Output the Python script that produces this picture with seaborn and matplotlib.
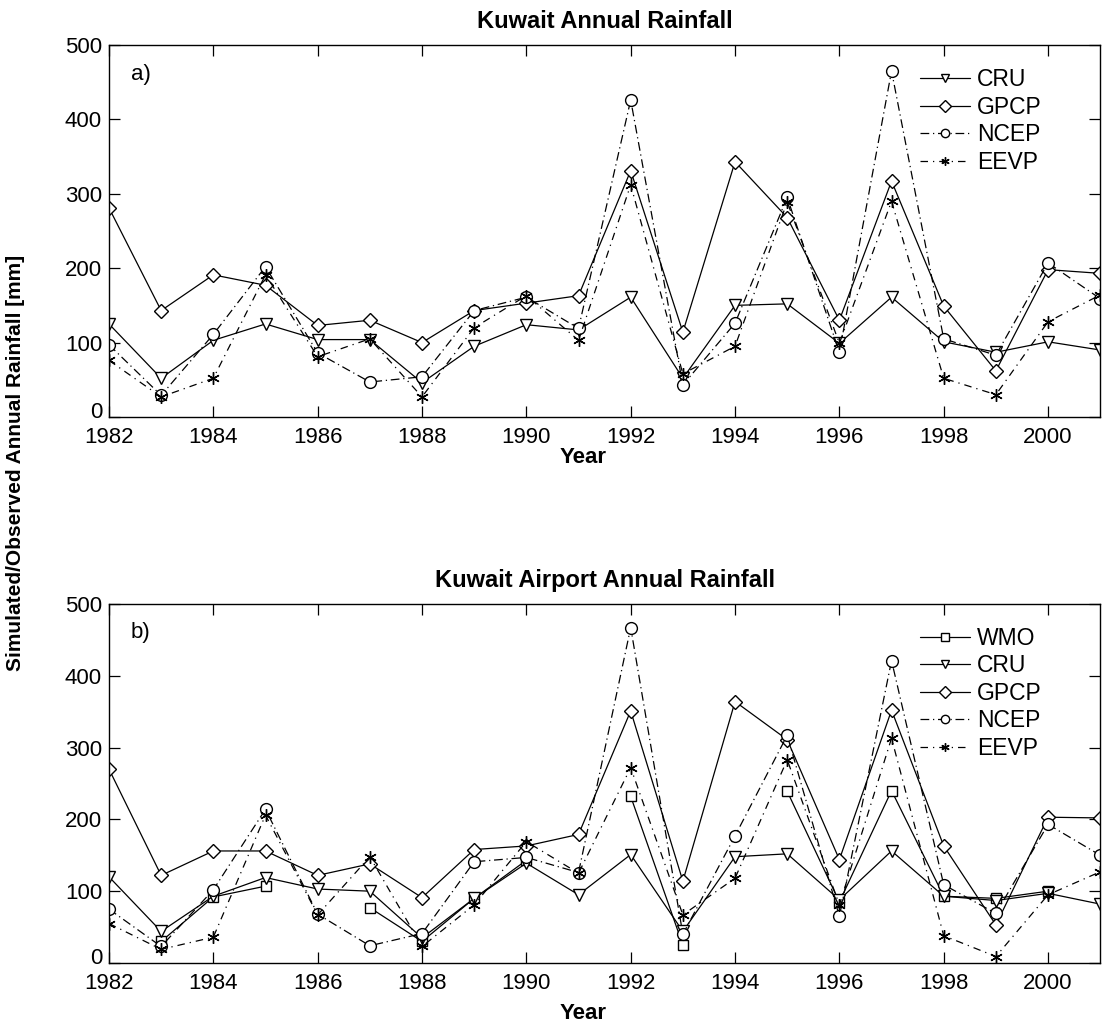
import numpy as np
import pandas as pd
import seaborn as sns
import matplotlib.pyplot as plt
import matplotlib.transforms as mtransforms

# Values (mm)
years = list(range(1982, 2002))

# a) Kuwait
cru_a = [125, 52, 103, 125, 104, 104, 46, 95, 124, 117, 161, 52, 150, 152, 99, 161, 101, 87, 101, 90]
gpcp_a = [281, 143, 191, 177, 123, 130, 100, 143, 153, 163, 331, 114, 343, 268, 130, 317, 149, 62, 198, 193]
ncep_a = [97, 29, 111, 202, 86, 47, 54, 143, 161, 119, 426, 43, 126, 295, 87, 465, 105, 83, 207, 159]
eevp_a = [76, 27, 52, 191, 81, 105, 27, 120, 163, 103, 312, 58, 95, 289, 99, 290, 52, 30, 128, 164]

# b) Kuwait Airport (WMO has missing years)
wmo_b = [np.nan, 30, 92, 107, np.nan, 77, 30, 90, 143, np.nan, 232, 25, np.nan, 239, 85, 240, 93, 90, 100, np.nan]
cru_b = [120, 44, 93, 119, 103, 100, 35, 90, 139, 95, 151, 44, 148, 152, 88, 156, 93, 87, 97, 82]
gpcp_b = [270, 122, 156, 156, 122, 138, 91, 158, 163, 179, 351, 114, 364, 311, 144, 352, 163, 53, 203, 202]
ncep_b = [75, 23, 102, 214, 68, 24, 41, 141, 147, 126, 467, 40, 177, 317, 65, 421, 109, 69, 193, 150]
eevp_b = [55, 19, 36, 206, 67, 148, 23, 81, 169, 125, 272, 67, 118, 283, 81, 313, 38, 9, 95, 127]

titles = ["Kuwait Annual Rainfall", "Kuwait Airport Annual Rainfall"]
panel_tags = ["a)", "b)"]

sns.set_style("ticks")
plt.rcParams["font.family"] = ["Liberation Sans", "DejaVu Sans"]
for key in ["text.color", "axes.labelcolor", "xtick.color", "ytick.color", "axes.edgecolor"]:
    plt.rcParams[key] = "black"

# series styles: marker, linestyle (dash patterns mimic the matlab ones)
asterisk = (6, 2, 0)
styles = {
    "WMO": dict(marker="s", ls="-", ms=7),
    "CRU": dict(marker="v", ls="-", ms=9),
    "GPCP": dict(marker="D", ls="-", ms=7),
    "NCEP": dict(marker="o", ls=(0, (7, 3, 1, 3)), ms=8.5),
    "EEVP": dict(marker=asterisk, ls=(0, (6, 4, 1, 4)), ms=9),
}

panels = [
    {"CRU": cru_a, "GPCP": gpcp_a, "NCEP": ncep_a, "EEVP": eevp_a},
    {"WMO": wmo_b, "CRU": cru_b, "GPCP": gpcp_b, "NCEP": ncep_b, "EEVP": eevp_b},
]

fig = plt.figure(figsize=(11.02, 10.26), dpi=100)
ax_top = fig.add_axes([0.0989, 0.5936, 0.8995, 0.3626])
ax_bot = fig.add_axes([0.0989, 0.0614, 0.8995, 0.3500])


def draw_series(ax, name, values):
    st = styles[name]
    df = pd.DataFrame({"Year": years, "Rain": values})
    # split into runs so that missing years leave a gap in the line
    df["seg"] = df["Rain"].isna().cumsum()
    df = df.dropna()
    first = True
    for _, part in df.groupby("seg"):
        sns.lineplot(data=part, x="Year", y="Rain", ax=ax, color="black",
                     linestyle=st["ls"], linewidth=0.9, marker=st["marker"],
                     markersize=st["ms"], markerfacecolor="white",
                     markeredgecolor="black", markeredgewidth=1.0,
                     label=name if first else None, legend=False)
        first = False


for ax, series, title, tag in zip([ax_top, ax_bot], panels, titles, panel_tags):
    for name, vals in series.items():
        draw_series(ax, name, vals)
    ax.set_xlim(1982, 2001)
    ax.set_ylim(0, 500)
    ax.set_xticks(range(1982, 2001, 2))
    ax.set_yticks(range(0, 501, 100))
    ax.tick_params(direction="in", length=8, width=0.9, top=True, right=True,
                   labelsize=16, pad=5)
    ax.tick_params(axis="x", pad=7)
    for sp in ax.spines.values():
        sp.set_linewidth(1.0)
    ax.set_ylabel("")
    ax.set_xlabel("Year", fontsize=16, fontweight="bold", labelpad=0)
    ax.set_title(title, fontsize=17, fontweight="bold", pad=12)
    ax.text(0.022, 0.92, tag, transform=ax.transAxes, fontsize=16, va="center")
    leg = ax.legend(loc="upper right", bbox_to_anchor=(0.955, 0.975), frameon=False,
                    fontsize=16.5, handlelength=2.2, handletextpad=0.3,
                    labelspacing=0.2, borderaxespad=0.2)
    for h in leg.legend_handles:
        h.set_markersize(6)
    # lift the "0" label a little so it sits above the first year label
    zero_lab = ax.get_yticklabels()[0]
    zero_lab.set_transform(zero_lab.get_transform() +
                           mtransforms.ScaledTranslation(0, 5 / 72, fig.dpi_scale_trans))

ax_top.xaxis.set_label_coords(0.478, -0.08)
ax_bot.xaxis.set_label_coords(0.478, -0.11)

fig.text(0.014, 0.549, "Simulated/Observed Annual Rainfall [mm]", rotation=90,
         va="center", ha="center", fontsize=15, fontweight="bold")

plt.savefig("out.png", dpi=100, facecolor="white")
